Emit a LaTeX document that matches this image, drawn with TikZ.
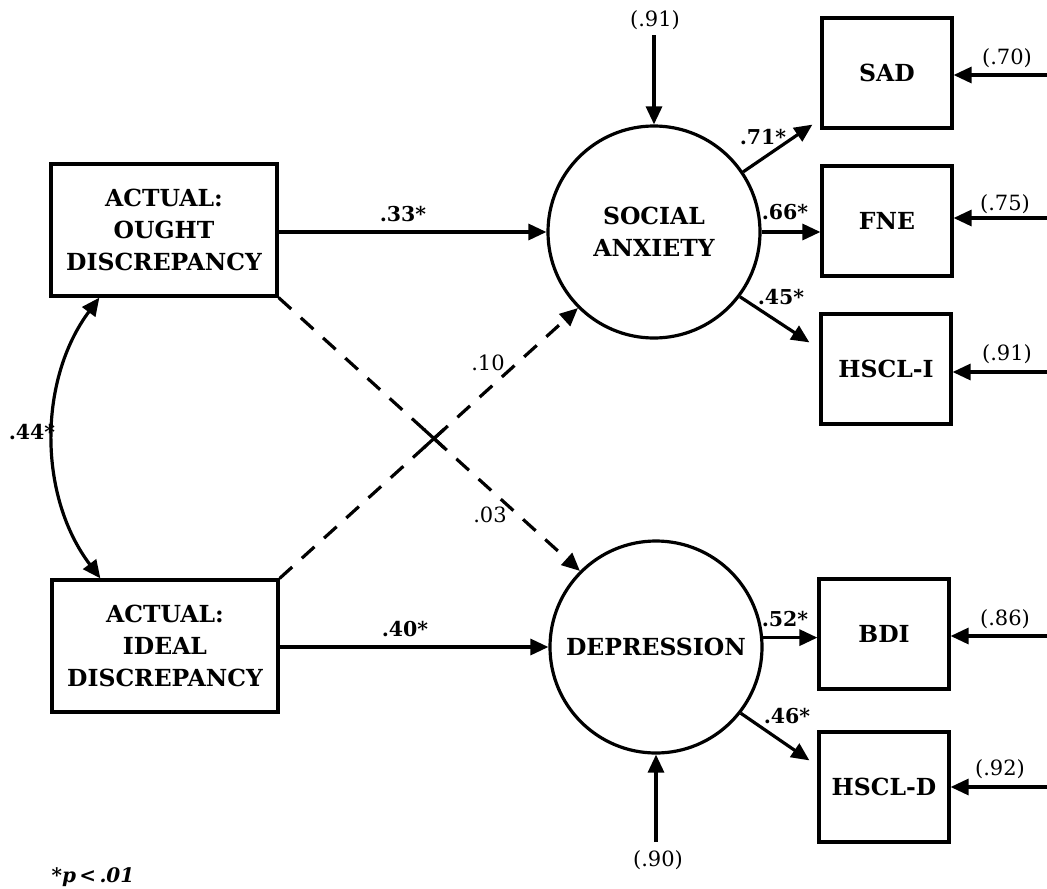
\documentclass[tikz,border=0pt]{standalone}
\usepackage{fontspec}
\setmainfont{DejaVu Serif}
\usetikzlibrary{arrows.meta,calc}
\begin{document}
\begin{tikzpicture}[x=1pt,y=-1pt,
  varbox/.style={draw, line width=3.2pt, minimum width=226pt, minimum height=132pt, inner sep=2pt, align=center, font=\fontsize{23.5}{32}\selectfont\bfseries},
  smallbox/.style={draw, line width=3.2pt, minimum width=130pt, minimum height=110pt, inner sep=2pt, align=center, font=\fontsize{23.5}{32}\selectfont\bfseries},
  latent/.style={circle, draw, line width=3.2pt, minimum size=212pt, inner sep=0pt, align=center, font=\fontsize{23.5}{32}\selectfont\bfseries},
  arr/.style={line width=3.2pt, -{Triangle[length=18pt,width=16pt]}},
  dasharr/.style={arr, dash pattern=on 17pt off 13pt},
  coef/.style={font=\fontsize{20.5}{24}\selectfont\bfseries, inner sep=1pt},
  plainlab/.style={font=\fontsize{21}{24}\selectfont, inner sep=1pt}]
\useasboundingbox (0,0) rectangle (1047,889);

% observed predictors
\node[varbox] (ao) at (164,230) {ACTUAL:\\OUGHT\\DISCREPANCY};
\node[varbox] (ai) at (165,646) {ACTUAL:\\IDEAL\\DISCREPANCY};

% latent variables
\node[latent] (sa) at (654,232) {SOCIAL\\ANXIETY};
\node[latent] (dep) at (656,647) {DEPRESSION};

% indicators
\node[smallbox] (sad) at (887,73) {SAD};
\node[smallbox] (fne) at (887,221) {FNE};
\node[smallbox] (hscli) at (886,369) {HSCL-I};
\node[smallbox] (bdi) at (884,634) {BDI};
\node[smallbox] (hscld) at (884,787) {HSCL-D};

% structural paths
\draw[arr] (sa.west -| ao.east) -- (sa.west);
\draw[arr] (dep.west -| ai.east) -- (dep.west);
\node[coef] (c33) at (403,214) {.33*};
\node[coef] (c40) at (405,629) {.40*};

% dashed cross paths
\draw[dasharr] (ao.south east) -- (dep.135);
\draw[dasharr] (ai.north east) -- (sa.225);
\coordinate (X) at (intersection of ao.south east--dep.135 and ai.north east--sa.225);
\draw[line width=3.2pt] ($(X)!14pt!(ao.south east)$) -- ($(X)!14pt!(dep.135)$);
\draw[line width=3.2pt] ($(X)!14pt!(ai.north east)$) -- ($(X)!14pt!(sa.225)$);
\node[plainlab] (c10) at (488,363) {.10};
\node[plainlab] (c03) at (490,515) {.03};

% correlation
\coordinate (ct) at ([xshift=50pt]ao.south west);
\coordinate (cb) at ([xshift=50pt]ai.north west);
\draw[line width=3.2pt, {Triangle[length=18pt,width=16pt]}-{Triangle[length=18pt,width=16pt]}]
  (ct) .. controls (38,380) and (38,496) .. (cb);
\node[coef] (c44) at (32,432) {.44*};

% loadings
\draw[arr] (sa.34) -- ([xshift=-8pt,yshift=5pt]sad.south west);
\draw[arr] (sa.east) -- (sa.east -| fne.west);
\draw[arr] (sa.-37) -- ([xshift=-10pt,yshift=-30pt]hscli.north west);
\draw[arr] (dep.5) -- (dep.5 -| bdi.west);
\draw[arr] (dep.-38) -- ([xshift=-8pt,yshift=-30pt]hscld.north west);
\node[coef] (c71) at (763,137) {.71*};
\node[coef] (c66) at (785,212) {.66*};
\node[coef] (c45) at (781,297) {.45*};
\node[coef] (c52) at (785,619) {.52*};
\node[coef] (c46) at (787,716) {.46*};

% disturbances
\coordinate (dsa) at (654,35);
\coordinate (ddep) at (656,842);
\draw[arr] (dsa) -- (sa.north);
\draw[arr] (ddep) -- (dep.south);
\node[plainlab] (l91a) at (655,20) {(.91)};
\node[plainlab] (l90) at (658,860) {(.90)};

% measurement errors
\coordinate (e1) at (1047,75);
\coordinate (e2) at (1047,218);
\coordinate (e3) at (1047,372);
\coordinate (e4) at (1047,636);
\coordinate (e5) at (1047,787);
\draw[arr] (e1) -- (e1 -| sad.east);
\draw[arr] (e2) -- (e2 -| fne.east);
\draw[arr] (e3) -- (e3 -| hscli.east);
\draw[arr] (e4) -- (e4 -| bdi.east);
\draw[arr] (e5) -- (e5 -| hscld.east);
\node[plainlab] (l70) at (1007,58) {(.70)};
\node[plainlab] (l75) at (1005,204) {(.75)};
\node[plainlab] (l91b) at (1007,354) {(.91)};
\node[plainlab] (l86) at (1005,619) {(.86)};
\node[plainlab] (l92) at (1000,769) {(.92)};

% footnote
\node[font=\fontsize{20}{24}\selectfont\bfseries\itshape, inner sep=1pt] (fn) at (93,877) {*p\,<\,.01};
\end{tikzpicture}
\end{document}
